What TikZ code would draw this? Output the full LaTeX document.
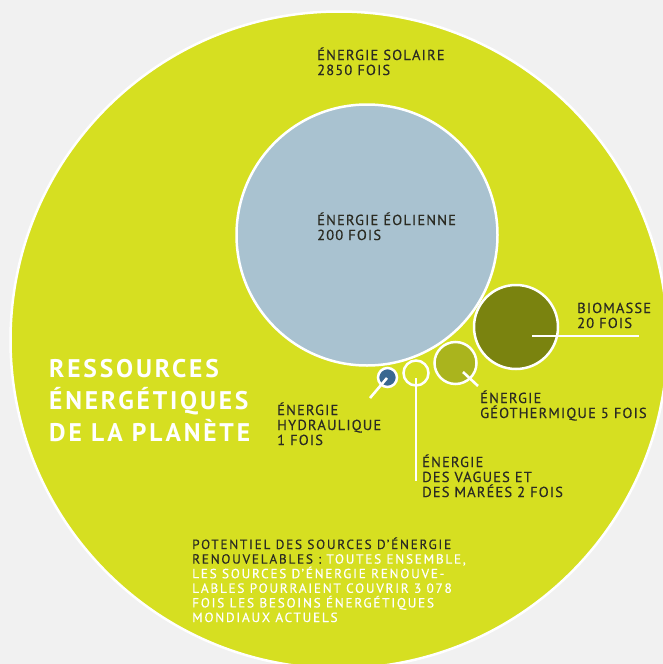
\documentclass[tikz,border=0pt]{standalone}
\usepackage{fontspec}
\setmainfont{PT Sans}
\newfontfamily\labfont[LetterSpace=8,FakeBold=0.4]{PT Sans}
\newfontfamily\potfont[LetterSpace=13,FakeBold=0.4]{PT Sans}
\newfontfamily\titfont[LetterSpace=11]{PT Sans}
\definecolor{bgc}{HTML}{F1F1F1}
\definecolor{sunc}{HTML}{D6DF21}
\definecolor{windc}{HTML}{A9C2D0}
\definecolor{bioc}{HTML}{7A830F}
\definecolor{geoc}{HTML}{AAB41D}
\definecolor{hydroc}{HTML}{3A6890}
\definecolor{txtc}{HTML}{2B2B22}
\begin{document}
\begin{tikzpicture}[x=1pt,y=-1pt,
  disc/.style={circle,draw=white,line width=2.5pt,inner sep=0pt,minimum size=#1},
  lbl/.style={anchor=base west,inner sep=0pt,align=left,text=txtc,font=\labfont\fontsize{14.5}{15}\selectfont},
  conn/.style={draw=white,line width=2.6pt}]
\fill[bgc] (0,0) rectangle (663,664);
\useasboundingbox (0,0) rectangle (663,664);
\begin{scope}
\clip (0,0) rectangle (663,664);
\node[disc=657pt,fill=sunc] (sun) at (339,340) {};
\end{scope}
\node[disc=261pt,fill=windc] (wind) at (367,235) {};
\node[disc=84pt,fill=bioc] (bio) at (516,327) {};
\node[disc=42pt,fill=geoc] (geo) at (455.5,363) {};
\node[disc=25pt,fill=sunc] (wave) at (416,373) {};
\node[disc=19pt,fill=hydroc] (hydro) at (387.5,377.5) {};
% connectors
\coordinate (bioA) at (532,336);
\coordinate (bioB) at (639,336);
\coordinate (geoA) at (463,372);
\coordinate (geoB) at (478,386);
\coordinate (waveA) at (416,378);
\coordinate (waveB) at (416,481);
\coordinate (hydA) at (387,378);
\coordinate (hydB) at (370,398);
\draw[conn] (bioA) -- (bioB);
\draw[conn] (geoA) -- (geoB);
\draw[conn] (waveA) -- (waveB);
\draw[conn] (hydA) -- (hydB);
% labels (base = last line baseline)
\node[lbl] (tsun) at (317,75) {ÉNERGIE SOLAIRE\\2850 FOIS};
\node[lbl] (twind) at (317,240) {ÉNERGIE ÉOLIENNE\\200 FOIS};
\node[lbl] (tbio) at (577,328) {BIOMASSE\\20 FOIS};
\node[lbl] (tgeo) at (480,418) {ÉNERGIE\\GÉOTHERMIQUE 5 FOIS};
\node[lbl] (twave) at (422,497) {ÉNERGIE\\DES VAGUES ET\\DES MARÉES 2 FOIS};
\node[lbl] (thyd) at (277,445) {ÉNERGIE\\HYDRAULIQUE\\1 FOIS};
\node[anchor=base west,inner sep=0pt,align=left,text=white,font=\titfont\fontsize{25.5}{32}\selectfont\bfseries] (title) at (49,441) {RESSOURCES\\ÉNERGÉTIQUES\\DE LA PLANÈTE};
\node[anchor=base west,inner sep=0pt,align=left,text=txtc,font=\potfont\fontsize{13.3}{14.6}\selectfont] (tpot) at (192,622)
 {POTENTIEL DES SOURCES D’ÉNERGIE\\RENOUVELABLES :\ \textcolor{white}{TOUTES ENSEMBLE,}\\
 \textcolor{white}{LES SOURCES D’ÉNERGIE RENOUVE-}\\
 \textcolor{white}{LABLES POURRAIENT COUVRIR 3 078}\\
 \textcolor{white}{FOIS LES BESOINS ÉNERGÉTIQUES}\\
 \textcolor{white}{MONDIAUX ACTUELS}};
\end{tikzpicture}
\end{document}
